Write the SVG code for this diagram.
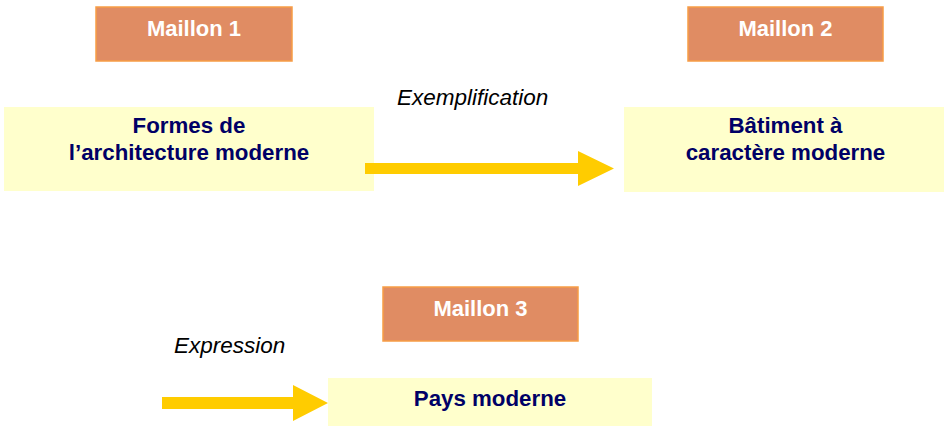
<svg xmlns="http://www.w3.org/2000/svg" width="944" height="426" viewBox="0 0 944 426">
  <style>
    .tag rect { fill: #e08c63; stroke: #f79d45; stroke-width: 1.5; }
    .tag text { fill: #ffffff; font-family: "Liberation Sans", Arial, sans-serif; font-weight: bold; font-size: 22px; text-anchor: middle; }
    .box rect { fill: #ffffcc; }
    .box text { fill: #000066; font-family: "Liberation Sans", Arial, sans-serif; font-weight: bold; font-size: 22.3px; text-anchor: middle; }
    .lbl { fill: #000000; font-family: "Liberation Sans", Arial, sans-serif; font-style: italic; font-size: 22.5px; }
    .arrow { fill: #ffcc00; }
  </style>

  <!-- link labels -->
  <g id="maillon1" class="tag">
    <rect x="96" y="7" width="196" height="54"/>
    <text x="194" y="36">Maillon 1</text>
  </g>
  <g id="maillon2" class="tag">
    <rect x="688" y="7" width="195" height="54"/>
    <text x="785.5" y="36">Maillon 2</text>
  </g>
  <g id="maillon3" class="tag">
    <rect x="383" y="287" width="195" height="54"/>
    <text x="480.5" y="316">Maillon 3</text>
  </g>

  <!-- concept boxes -->
  <g id="formes" class="box">
    <rect x="4" y="107" width="370" height="84"/>
    <text x="189" y="133">Formes de</text>
    <text x="189" y="160">l’architecture moderne</text>
  </g>
  <g id="batiment" class="box">
    <rect x="624" y="107" width="322" height="85"/>
    <text x="785.5" y="132.5">Bâtiment à</text>
    <text x="785.5" y="159.5">caractère moderne</text>
  </g>
  <g id="pays" class="box">
    <rect x="328" y="378" width="324" height="48"/>
    <text x="490" y="406">Pays moderne</text>
  </g>

  <!-- relations -->
  <g id="connectors">
    <path class="arrow" d="M365,163 H578 V151 L614,168.5 L578,186 V174 H365 Z"/>
    <text class="lbl" x="397" y="105">Exemplification</text>
    <path class="arrow" d="M162,397 H293 V385 L328,403 L293,421 V409 H162 Z"/>
    <text class="lbl" x="174" y="353">Expression</text>
  </g>
</svg>
